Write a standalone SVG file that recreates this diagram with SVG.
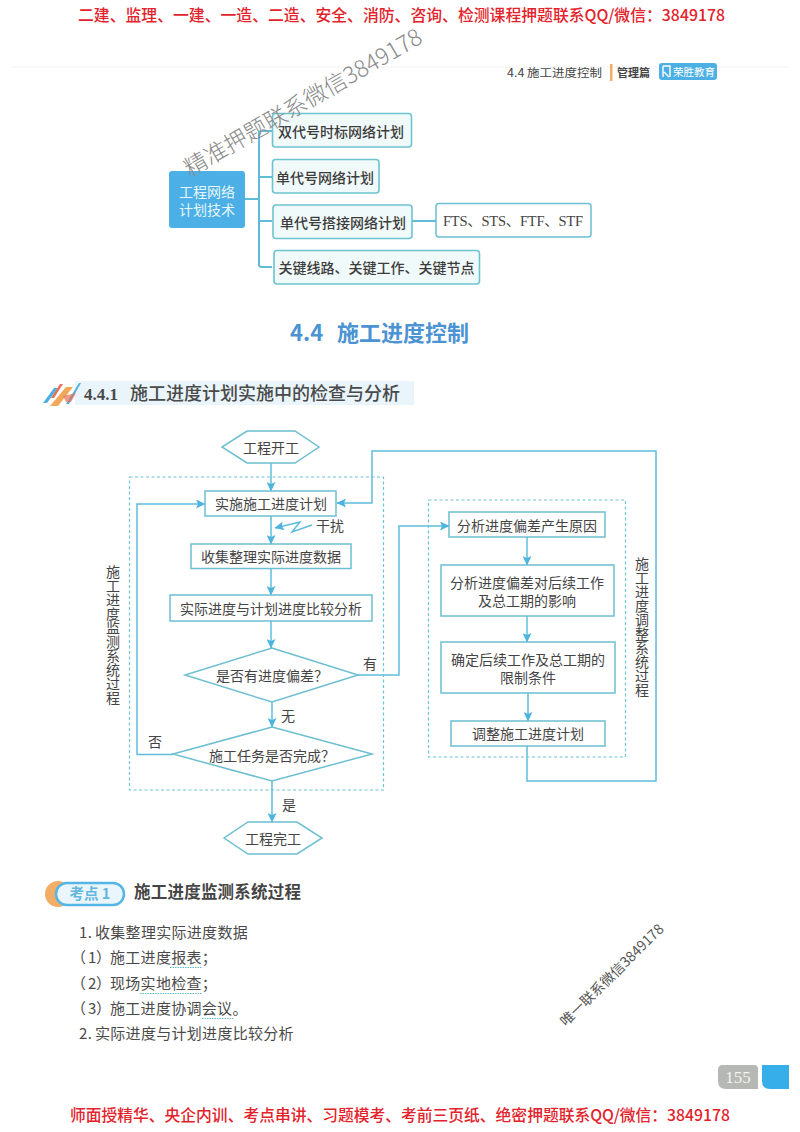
<svg xmlns="http://www.w3.org/2000/svg" width="800" height="1132" viewBox="0 0 800 1132">
<defs>
<marker id="ah" markerWidth="10" markerHeight="9" refX="9" refY="4.500" orient="auto" markerUnits="userSpaceOnUse"><path d="M0 0L9.500 4.500L0 9L2 4.500Z" fill="#4db4e0"/></marker>
</defs>
<style>
text{font-family:"Noto Sans CJK SC","Liberation Sans",sans-serif;fill:#444}
.red{fill:#e3232c;font-size:16px;font-weight:500}
.b{fill:#fff;stroke:#6cbfd0;stroke-width:1.5}
.mb{fill:#f1fafa;stroke:#6cc4cf;stroke-width:1.6}
.dash{fill:none;stroke:#6cc4cf;stroke-width:1.2;stroke-dasharray:3 2.5}
.c{fill:none;stroke:#5fbcd6;stroke-width:2}
.ca{fill:none;stroke:#5fbcdc;stroke-width:1.5;marker-end:url(#ah)}
.t{font-size:14px;text-anchor:middle;dominant-baseline:central}
.m{font-size:14px;font-weight:500;text-anchor:middle;dominant-baseline:central;fill:#3c3c3c}
.v{font-size:14px;writing-mode:vertical-rl}
.l{font-size:15px;fill:#4a4a4a;letter-spacing:.3px}
.u{stroke:#5fbcc8;stroke-width:1.2;stroke-dasharray:1.5 1}
</style>
<rect width="800" height="1132" fill="#fff"/>
<text class="red" x="78" y="20.5" textLength="647" lengthAdjust="spacingAndGlyphs">二建、监理、一建、一造、二造、安全、消防、咨询、检测课程押题联系QQ/微信：3849178</text>
<text class="red" x="70" y="1120.5" textLength="660" lengthAdjust="spacingAndGlyphs">师面授精华、央企内训、考点串讲、习题模考、考前三页纸、绝密押题联系QQ/微信：3849178</text>
<line x1="10" y1="67" x2="790" y2="67" stroke="#f2f2f2" stroke-width="1"/>
<text x="507" y="77" font-size="11.5" textLength="95" lengthAdjust="spacingAndGlyphs">4.4 施工进度控制</text>
<rect x="610" y="64" width="2.5" height="17" fill="#f0b060"/>
<text x="617" y="77" font-size="11" font-weight="700" textLength="33">管理篇</text>
<rect x="659" y="63" width="58" height="17" rx="3" fill="#4db0e4"/>
<text x="673" y="76" font-size="10.5" style="fill:#fff" textLength="42">荣胜教育</text>
<path d="M663 66h7v11M663 66v11M664 72l5 5" fill="none" stroke="#fff" stroke-width="1.4"/>
<g id="map-connectors">
<path class="c" d="M245 199H259M259 199V133Q259 131 262 131H272M259 177H272M259 199V221H272M259 221V265Q259 267 262 267H272M412 221H436"/>
</g>
<g id="map-root"><rect x="169" y="171" width="76" height="57" rx="3" fill="#4cb0e6"/><text x="207" y="190.500" font-size="14" text-anchor="middle" dominant-baseline="central" style="fill:#e8f6fc">工程网络</text><text x="207" y="208.500" font-size="14" text-anchor="middle" dominant-baseline="central" style="fill:#e8f6fc">计划技术</text></g>
<g id="map-1"><rect class="mb" x="272.500" y="113.500" width="139" height="33.500" rx="3"/><text class="m" x="341" y="130.500">双代号时标网络计划</text></g>
<g id="map-2"><rect class="mb" x="272.500" y="159.500" width="106.500" height="33.500" rx="3"/><text class="m" x="325" y="176.500">单代号网络计划</text></g>
<g id="map-3"><rect class="mb" x="273" y="205" width="139" height="33.500" rx="3"/><text class="m" x="343" y="222">单代号搭接网络计划</text></g>
<g id="map-4"><rect class="mb" x="274" y="250.500" width="205.500" height="33.500" rx="3"/><text class="m" x="376.500" y="267">关键线路、关键工作、关键节点</text></g>
<g id="map-5"><rect class="b" x="436" y="203.500" width="155" height="33.500" rx="3"/><text x="443" y="226" font-size="14.500" textLength="140" style="font-family:'Liberation Serif','Noto Sans CJK SC',serif">FTS、STS、FTF、STF</text></g>
<text font-size="22" font-weight="700" style="fill:#4b93d2"><tspan x="290" y="341">4.4</tspan><tspan x="337" y="341">施工进度控制</tspan></text>
<rect x="75" y="381" width="339" height="24" fill="#e9f5fa"/>
<g id="section-icon">
<path d="M43 403L54 388L58 388L47 403Z" fill="#4fb0e0"/>
<path d="M51 398L60 384L63 384L54 398Z" fill="#e8705a"/>
<path d="M50 406L66 387L73 387L58 406Z" fill="#f2a85a"/>
<path d="M66 404L79 383L81 383L69 404Z" fill="#4fb0e0"/>
<path d="M63 396L76 393L71 402L66 402Z" fill="#e8705a" opacity=".7"/>
</g>
<text y="400" font-weight="700" style="fill:#4a4a4a"><tspan x="84" font-size="17" style="font-family:'Liberation Serif',serif">4.4.1</tspan><tspan x="130" font-size="18" font-weight="500">施工进度计划实施中的检查与分析</tspan></text>
<g id="connectors">
<path class="ca" d="M271 463V491"/>
<path class="ca" d="M271 516V544"/>
<path class="ca" d="M271 568V595"/>
<path class="ca" d="M271 621V648"/>
<path class="ca" d="M272 702V727"/>
<path class="ca" d="M272 781V822"/>
<path class="ca" d="M173 754.500H137V504H205"/>
<path class="ca" d="M527 746V781H656V451H372V503H337"/>
<path class="ca" d="M358 675H399V526H449"/>
<path class="ca" d="M527 537V565"/>
<path class="ca" d="M527 616V642"/>
<path class="ca" d="M528 693V721"/>
<path class="ca" d="M312 525L292 532L300 522L275 528"/>
</g>
<rect id="monitor-frame" class="dash" x="129.500" y="477" width="254" height="313"/>
<rect id="adjust-frame" class="dash" x="428.500" y="500" width="197" height="257"/>
<g id="start"><path class="b" d="M247 431H295L319 447L295 463H247L222 447Z"/><text class="t" x="271" y="447">工程开工</text></g>
<g id="n1"><rect class="b" x="205" y="491" width="131" height="25"/><text class="t" x="271" y="503">实施施工进度计划</text></g>
<text x="316" y="531" font-size="14">干扰</text>
<g id="n2"><rect class="b" x="191" y="544" width="160" height="24.500"/><text class="t" x="271" y="556">收集整理实际进度数据</text></g>
<g id="n3"><rect class="b" x="170" y="595" width="202" height="26"/><text class="t" x="271" y="608">实际进度与计划进度比较分析</text></g>
<g id="d1"><path class="b" d="M272 648L358 675L272 702L185 675Z"/><text class="t" x="272" y="675">是否有进度偏差？</text></g>
<g id="d2"><path class="b" d="M272 727L372 754L272 781L173 754Z"/><text class="t" x="272" y="755">施工任务是否完成？</text></g>
<g id="end"><path class="b" d="M248 822H297L322 838L297 854H248L224 838Z"/><text class="t" x="273" y="838">工程完工</text></g>
<g id="r1"><rect class="b" x="449" y="512" width="156" height="25"/><text class="t" x="527" y="525">分析进度偏差产生原因</text></g>
<g id="r2"><rect class="b" x="441" y="565" width="173" height="51"/><text class="t" x="527" y="582">分析进度偏差对后续工作</text><text class="t" x="527" y="600">及总工期的影响</text></g>
<g id="r3"><rect class="b" x="441" y="642" width="174" height="51"/><text class="t" x="528" y="659">确定后续工作及总工期的</text><text class="t" x="528" y="677">限制条件</text></g>
<g id="r4"><rect class="b" x="451" y="721" width="154" height="25"/><text class="t" x="528" y="733">调整施工进度计划</text></g>
<text x="363" y="669" font-size="14">有</text>
<text x="281" y="721" font-size="14">无</text>
<text x="148" y="747" font-size="14">否</text>
<text x="282" y="810" font-size="14">是</text>
<text class="v" x="113" y="565">施工进度监测系统过程</text>
<text class="v" x="642" y="557">施工进度调整系统过程</text>
<g id="kaodian">
<circle cx="58" cy="894" r="13" fill="#f2ad66"/>
<rect x="56" y="883" width="68" height="22" rx="11" fill="#eaf6fc" stroke="#55b6e6" stroke-width="2.500"/>
<text x="90" y="899" font-size="14.500" font-weight="700" text-anchor="middle" style="fill:#62b6e0">考点 1</text>
</g>
<text x="134" y="898" font-size="16.500" font-weight="700" style="fill:#454545" textLength="167">施工进度监测系统过程</text>
<text class="l" y="938"><tspan x="79">1.</tspan><tspan x="95">收集整理实际进度数据</tspan></text>
<text class="l" y="963"><tspan x="71">（</tspan><tspan x="88">1</tspan><tspan x="96">）</tspan><tspan x="110">施工进度报表；</tspan></text>
<text class="l" y="989"><tspan x="71">（</tspan><tspan x="88">2</tspan><tspan x="96">）</tspan><tspan x="110">现场实地检查；</tspan></text>
<text class="l" y="1014"><tspan x="71">（</tspan><tspan x="88">3</tspan><tspan x="96">）</tspan><tspan x="110">施工进度协调会议。</tspan></text>
<text class="l" y="1039"><tspan x="79">2.</tspan><tspan x="95">实际进度与计划进度比较分析</tspan></text>
<path class="u" d="M170 967.500H202M140 993.500H202M202 1018.500H233" fill="none"/>
<text x="0" y="0" font-size="23" transform="translate(190 177) rotate(-30)" style="fill:#8a8a8a;font-weight:300">精准押题联系微信3849178</text>
<text x="0" y="0" font-size="14" transform="translate(566 1027) rotate(-44.500)" style="fill:#555">唯一联系微信3849178</text>
<g id="page">
<path d="M723 1065H754Q758 1065 758 1069V1089H726Q718 1089 718 1081V1070Q718 1065 723 1065Z" fill="#b5b8b3"/>
<text x="738" y="1083" font-size="17" text-anchor="middle" style="fill:#f2f2f2;font-family:'Liberation Serif',serif">155</text>
<path d="M762 1065H789V1089H770Q762 1089 762 1081Z" fill="#35aeea"/>
</g>
</svg>
